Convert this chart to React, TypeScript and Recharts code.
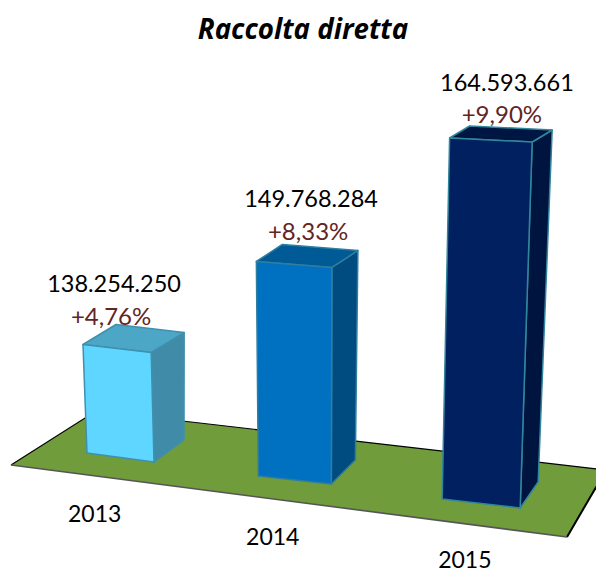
import React from "react";
import { Bar, BarChart, Customized, LabelList, XAxis, YAxis } from "recharts";

const years = ["2013", "2014", "2015"];
const deposits = [138254250, 149768284, 164593661];
const growth = ["+4,76%", "+8,33%", "+9,90%"];

const rows = years.map((year, i) => ({ year, deposits: deposits[i], growth: growth[i] }));

const WIDTH = 596;
const HEIGHT = 572;
const FONT = "Lato, sans-serif";

const frontFill = ["#5FD6FF", "#0070C0", "#002060"];
const topFill = ["#4CA6C6", "#005A96", "#001642"];
const sideFill = ["#3F8BA8", "#004B80", "#001440"];
const edgeStroke = ["#3F90AE", "#2F7E9F", "#31859C"];

// Perspective adjustments for each box: nearer boxes sit lower on the floor and look wider.
const xShift = [0, -6, 0];
const floorDrop = [0, 23, 46];
const widthScale = [67 / 73, 1, 78 / 73];
const heightScale = [1, 0.98, 1];
const bottomSkew = [9, 8, 9];
const topSkew = [8, 6, 4];
const topDepth = [[33, -20], [26, -17], [20, -12]];
const bottomDepth = [[30, -22], [24, -24], [18, -26]];
const LEAN_CENTER = 315;
const LEAN_RATE = 0.000162;

const valueLabelShift = [[-3, -52.5], [17, -54], [16, -47]];
const growthLabelShift = [[-6, -19.5], [14, -21], [11, -15]];
const yearLabelShift = [[-25.5, 61], [-27.75, 84], [-16, 107]];

type Box = { x: number; y: number; width: number; height: number };

function project({ x, y, width, height }: Box, i: number) {
  const w = width * widthScale[i];
  const left = x + width / 2 - w / 2 + xShift[i];
  const right = left + w;
  const h = height * heightScale[i];
  const base = y + height + floorDrop[i];
  const leanL = h * (left - LEAN_CENTER) * LEAN_RATE;
  const leanR = h * (right - LEAN_CENTER) * LEAN_RATE;
  return {
    bl: [left, base],
    br: [right, base + bottomSkew[i]],
    tl: [left + leanL, base - h],
    tr: [right + leanR, base - h + topSkew[i]],
  };
}

const pts = (list: number[][]) => list.map((p) => p.join(",")).join(" ");
const plus = (p: number[], d: number[]) => [p[0] + d[0], p[1] + d[1]];

function BoxShape(props: any) {
  const i: number = props.index;
  const { bl, br, tl, tr } = project(props, i);
  const topBackL = plus(tl, topDepth[i]);
  const topBackR = plus(tr, topDepth[i]);
  const bottomBackR = plus(br, bottomDepth[i]);
  const face = { stroke: edgeStroke[i], strokeWidth: 1.5, strokeLinejoin: "round" as const };
  return (
    <g>
      <polygon points={pts([tr, topBackR, bottomBackR, br])} fill={sideFill[i]} {...face} />
      <polygon points={pts([tl, topBackL, topBackR, tr])} fill={topFill[i]} {...face} />
      <polygon points={pts([tl, tr, br, bl])} fill={frontFill[i]} {...face} />
    </g>
  );
}

const groupThousands = (n: number) => String(n).replace(/\B(?=(\d{3})+(?!\d))/g, ".");

function makeBoxLabel(shift: number[][], fill: string, size: number, text: (i: number) => string) {
  return function BoxLabel(props: any) {
    const i: number = props.index;
    const { tl, tr } = project(props, i);
    return (
      <text
        x={(tl[0] + tr[0]) / 2 + shift[i][0]}
        y={tl[1] + shift[i][1]}
        textAnchor="middle"
        fontFamily={FONT}
        fontSize={size}
        fill={fill}
      >
        {text(i)}
      </text>
    );
  };
}

function YearTick({ x, y, index, payload }: any) {
  return (
    <text
      x={x + yearLabelShift[index][0]}
      y={y + yearLabelShift[index][1]}
      textAnchor="middle"
      fontFamily={FONT}
      fontSize={23}
      fill="#000000"
    >
      {payload.value}
    </text>
  );
}

// Green floor under the boxes and the chart title.
function Backdrop() {
  const frontLeft = [11, 465];
  const backLeft = [96, 411];
  const backRight = [606, 470];
  const frontRight = [567, 537];
  return (
    <g>
      <text
        x={303}
        y={38.5}
        textAnchor="middle"
        fontFamily="'Open Sans', sans-serif"
        fontWeight={700}
        fontStyle="italic"
        fontSize={27.7}
        fill="#000000"
      >
        Raccolta diretta
      </text>
      <polygon points={pts([frontLeft, backLeft, backRight, frontRight])} fill="#709C3C" />
      <polyline points={pts([frontLeft, backLeft, backRight])} fill="none" stroke="#000000" strokeWidth={1.2} />
      <polyline points={pts([backRight, frontRight])} fill="none" stroke="#000000" strokeWidth={2} />
      <polyline points={pts([frontLeft, frontRight])} fill="none" stroke="#555555" strokeWidth={1.6} />
    </g>
  );
}

export default function App() {
  return (
    <div style={{ position: "absolute", left: 0, top: 0, width: WIDTH, height: HEIGHT, background: "#ffffff" }}>
      <BarChart
        width={WIDTH}
        height={HEIGHT}
        data={rows}
        margin={{ top: 0, right: 25, bottom: 0, left: 30 }}
        barSize={73}
      >
        <Customized component={Backdrop} />
        <XAxis
          dataKey="year"
          height={119}
          axisLine={false}
          tickLine={false}
          interval={0}
          tick={YearTick}
        />
        <YAxis hide domain={[126936000, 174190000]} />
        <Bar dataKey="deposits" shape={BoxShape} isAnimationActive={false}>
          <LabelList
            dataKey="deposits"
            content={makeBoxLabel(valueLabelShift, "#000000", 23.5, (i) => groupThousands(deposits[i]))}
          />
          <LabelList dataKey="growth" content={makeBoxLabel(growthLabelShift, "#632523", 24, (i) => growth[i])} />
        </Bar>
      </BarChart>
    </div>
  );
}
